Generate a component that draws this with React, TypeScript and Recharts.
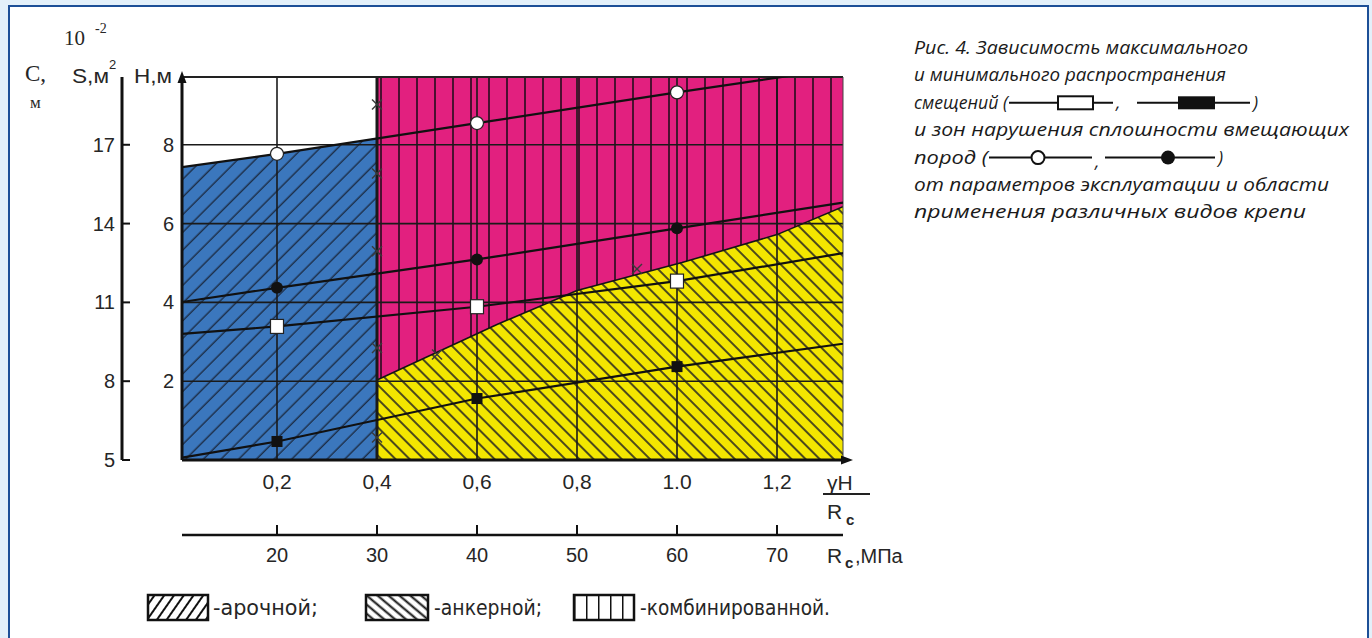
import React from 'react';
import { ComposedChart, Area, Line, Scatter, XAxis, YAxis, ReferenceLine } from 'recharts';

const SANS = "'Liberation Sans', Arial, Helvetica, sans-serif";
const NARROW = "'Liberation Sans Narrow', 'Arial Narrow', 'DejaVu Sans Condensed', 'Liberation Sans', sans-serif";
const SERIF = "'Liberation Serif', 'Times New Roman', serif";
const CAPTION = "'Open Sans', 'Noto Sans', 'DejaVu Sans', sans-serif";
const INK = '#262626';

// ---- axes / ticks ----
const xTicks = [0.2, 0.4, 0.6, 0.8, 1.0, 1.2];
const xTickLabels = ['0,2', '0,4', '0,6', '0,8', '1.0', '1,2'];
const rcTicks = [20, 30, 40, 50, 60, 70];
const hTicks = [2, 4, 6, 8];
const cTicks = [5, 8, 11, 14, 17];

const xDomain: [number, number] = [0.01, 1.332];
const hDomain: [number, number] = [0, 9.72];
const cDomain: [number, number] = [5, 19.58];
const rcDomain: [number, number] = [10.5, 76.6];

// ---- zones of support types (H, m) ----
const archZone = [
  { x: 0.01, v: 7.43 },
  { x: 0.2, v: 7.77 },
  { x: 0.4, v: 8.17 },
];
const combinedZone = [
  { x: 0.4, v: 9.72 },
  { x: 1.332, v: 9.72 },
];
const anchorZone = [
  { x: 0.4, v: 2.03 },
  { x: 0.64, v: 3.44 },
  { x: 0.8, v: 4.3 },
  { x: 1.01, v: 5.01 },
  { x: 1.2, v: 5.72 },
  { x: 1.332, v: 6.43 },
];

// ---- lines (m = marker drawn) ----
const zoneMax = [
  { x: 0.01, v: 7.43 },
  { x: 0.2, v: 7.77, m: 1 },
  { x: 0.6, v: 8.55, m: 1 },
  { x: 1.0, v: 9.33, m: 1 },
  { x: 1.332, v: 9.95 },
];
const zoneMin = [
  { x: 0.01, v: 4.01 },
  { x: 0.2, v: 4.37, m: 1 },
  { x: 0.6, v: 5.09, m: 1 },
  { x: 1.0, v: 5.88, m: 1 },
  { x: 1.332, v: 6.53 },
];
const dispMax = [
  { x: 0.01, v: 3.2 },
  { x: 0.2, v: 3.39, m: 1 },
  { x: 0.6, v: 3.89, m: 1 },
  { x: 1.0, v: 4.54, m: 1 },
  { x: 1.332, v: 5.25 },
];
const dispMin = [
  { x: 0.01, v: 0.06 },
  { x: 0.2, v: 0.47, m: 1 },
  { x: 0.6, v: 1.56, m: 1 },
  { x: 1.0, v: 2.37, m: 1 },
  { x: 1.332, v: 2.95 },
];
const crossMarks = [
  { x: 0.4, v: 9.02 },
  { x: 0.4, v: 7.27 },
  { x: 0.4, v: 5.3 },
  { x: 0.4, v: 2.84 },
  { x: 0.4, v: 0.57 },
  { x: 0.52, v: 2.68 },
  { x: 0.92, v: 4.85 },
];
// Rc (MPa) scale carrier, aligned with the γH/Rc axis
const rcAxisData = rcDomain.map((rc) => ({ rc, v: 0 }));

const captionLines = [
  'Рис. 4. Зависимость максимального',
  'и минимального распространения',
  'смещений (',
  'и зон нарушения сплошности вмещающих',
  'пород (',
  'от параметров эксплуатации и области',
  'применения различных видов крепи',
];
const legendItems = ['-арочной;', '-анкерной;', '-комбинированной.'];

// ---- tick renderers ----
const XTick = (p: any) => {
  const v = p.payload.value;
  const i = xTicks.findIndex((t) => Math.abs(t - v) < 1e-6);
  return (
    <text x={p.x} y={p.y + 22} dy="0.35em" textAnchor="middle" fontSize={21} fontFamily={SANS} fill={INK}>
      {i >= 0 ? xTickLabels[i] : String(v)}
    </text>
  );
};
const RcTick = (p: any) => (
  <g>
    <line x1={p.x} x2={p.x} y1={p.y - 10} y2={p.y} stroke="#111" strokeWidth={2} />
    <text x={p.x} y={p.y + 20} dy="0.35em" textAnchor="middle" fontSize={20} fontFamily={SANS} fill={INK}>
      {p.payload.value}
    </text>
  </g>
);
const HTick = (p: any) => (
  <text x={p.x - 8} y={p.y} dy="0.35em" textAnchor="end" fontSize={20} fontFamily={SANS} fill={INK}>
    {p.payload.value}
  </text>
);
const CTick = (p: any) => (
  <g>
    <line x1={p.x} x2={p.x + 8} y1={p.y} y2={p.y} stroke="#111" strokeWidth={2} />
    <text x={p.x - 7} y={p.y} dy="0.35em" textAnchor="end" fontSize={20} fontFamily={SANS} fill={INK}>
      {p.payload.value}
    </text>
  </g>
);

// ---- markers ----
const makeDot = (kind: string) => (p: any) => {
  const { cx, cy, payload, index } = p;
  if (!payload || !payload.m || cx == null || cy == null) return <g key={`e${kind}${index}`} />;
  const k = `d${kind}${index}`;
  if (kind === 'wc') return <circle key={k} cx={cx} cy={cy} r={6.5} fill="#fff" stroke="#222" strokeWidth={1.2} />;
  if (kind === 'bc') return <circle key={k} cx={cx} cy={cy} r={6} fill="#111" />;
  if (kind === 'ws') return <rect key={k} x={cx - 6.5} y={cy - 7} width={13} height={14} fill="#fff" stroke="#222" strokeWidth={1.2} />;
  return <rect key={k} x={cx - 5.5} y={cy - 5.5} width={11} height={11} fill="#111" />;
};
const CrossShape = (p: any) => {
  const { cx, cy } = p;
  if (cx == null || cy == null) return <g />;
  return (
    <g>
      <line x1={cx - 5} y1={cy - 5} x2={cx + 5} y2={cy + 5} stroke="#3a3a3a" strokeWidth={1.4} />
      <line x1={cx - 5} y1={cy + 5} x2={cx + 5} y2={cy - 5} stroke="#3a3a3a" strokeWidth={1.4} />
    </g>
  );
};

const AX = { xAxisId: 'g', yAxisId: 'h' };

export default function App() {
  const capY = (i: number) => 54 + 27.4 * i;
  return (
    <div style={{ position: 'absolute', left: 0, top: 0, width: 1372, height: 638, background: '#e3f0fa', overflow: 'hidden' }}>
      <div
        style={{
          position: 'absolute',
          left: 8,
          top: 5,
          width: 1361,
          height: 700,
          border: '2.5px solid #1d4f97',
          background: '#fff',
          boxSizing: 'border-box',
        }}
      />
      <div style={{ position: 'absolute', left: 0, top: 0 }}>
        <ComposedChart width={1372} height={638} margin={{ top: 77, right: 529, bottom: 43, left: 62 }}>
          <defs>
            <pattern id="hatchArch" patternUnits="userSpaceOnUse" width="12.5" height="12.5" patternTransform="rotate(45)">
              <rect width="12.5" height="12.5" fill="#3b77bd" />
              <line x1="6" y1="0" x2="6" y2="12.5" stroke="#1c2c44" strokeWidth="1.4" />
            </pattern>
            <pattern id="hatchAnchor" patternUnits="userSpaceOnUse" width="10" height="10" patternTransform="rotate(-45)">
              <rect width="10" height="10" fill="#f3e600" />
              <line x1="5" y1="0" x2="5" y2="10" stroke="#222" strokeWidth="1.6" />
            </pattern>
            <pattern id="hatchComb" patternUnits="userSpaceOnUse" width="18" height="10" x="12">
              <rect width="18" height="10" fill="#e2207f" />
              <line x1="9" y1="0" x2="9" y2="10" stroke="#4a1030" strokeWidth="2" />
            </pattern>
          </defs>

          <XAxis
            xAxisId="g"
            type="number"
            dataKey="x"
            domain={xDomain}
            ticks={xTicks}
            allowDataOverflow
            interval={0}
            height={75}
            tickSize={0}
            tickMargin={0}
            tickLine={false}
            axisLine={{ stroke: '#111', strokeWidth: 3 }}
            tick={XTick}
          />
          <XAxis
            xAxisId="rc"
            type="number"
            dataKey="rc"
            domain={rcDomain}
            ticks={rcTicks}
            allowDataOverflow
            interval={0}
            height={60}
            tickSize={0}
            tickMargin={0}
            tickLine={false}
            axisLine={{ stroke: '#111', strokeWidth: 2.5 }}
            tick={RcTick}
          />
          <YAxis
            yAxisId="h"
            type="number"
            dataKey="v"
            domain={hDomain}
            ticks={hTicks}
            allowDataOverflow
            interval={0}
            width={60}
            tickSize={0}
            tickMargin={0}
            tickLine={false}
            axisLine={{ stroke: '#111', strokeWidth: 3 }}
            tick={HTick}
          />
          <YAxis
            yAxisId="sc"
            type="number"
            domain={cDomain}
            ticks={cTicks}
            allowDataOverflow
            interval={0}
            width={60}
            tickSize={0}
            tickMargin={0}
            tickLine={false}
            axisLine={{ stroke: '#111', strokeWidth: 3 }}
            tick={CTick}
          />

          <Area {...AX} data={combinedZone} dataKey="v" type="linear" fill="url(#hatchComb)" fillOpacity={1} stroke="none" isAnimationActive={false} />
          <Area {...AX} data={anchorZone} dataKey="v" type="linear" fill="url(#hatchAnchor)" fillOpacity={1} stroke="#151515" strokeWidth={1.6} isAnimationActive={false} />
          <Area {...AX} data={archZone} dataKey="v" type="linear" fill="url(#hatchArch)" fillOpacity={1} stroke="none" isAnimationActive={false} />

          {hTicks.map((t) => (
            <ReferenceLine key={`hy${t}`} {...AX} y={t} stroke="#1a1a1a" strokeWidth={1.6} ifOverflow="visible" />
          ))}
          {xTicks.map((t) => (
            <ReferenceLine key={`vx${t}`} {...AX} x={t} stroke="#1a1a1a" strokeWidth={t === 0.4 ? 3 : 1.6} ifOverflow="visible" />
          ))}
          <ReferenceLine {...AX} y={hDomain[1]} stroke="#222" strokeWidth={2} ifOverflow="visible" />
          <ReferenceLine {...AX} x={xDomain[1]} stroke="#444" strokeWidth={1} ifOverflow="visible" />

          <Line xAxisId="rc" yAxisId="h" data={rcAxisData} dataKey="v" stroke="none" dot={false} activeDot={false} isAnimationActive={false} legendType="none" />

          <Scatter {...AX} data={crossMarks} dataKey="v" shape={CrossShape} isAnimationActive={false} />

          <Line {...AX} data={dispMin} dataKey="v" type="linear" stroke="#111" strokeWidth={2.2} dot={makeDot('bs')} activeDot={false} isAnimationActive={false} />
          <Line {...AX} data={dispMax} dataKey="v" type="linear" stroke="#111" strokeWidth={2.2} dot={makeDot('ws')} activeDot={false} isAnimationActive={false} />
          <Line {...AX} data={zoneMin} dataKey="v" type="linear" stroke="#111" strokeWidth={2.2} dot={makeDot('bc')} activeDot={false} isAnimationActive={false} />
          <Line {...AX} data={zoneMax} dataKey="v" type="linear" stroke="#111" strokeWidth={2.2} dot={makeDot('wc')} activeDot={false} isAnimationActive={false} />
        </ComposedChart>
      </div>

      <svg width={1372} height={638} style={{ position: 'absolute', left: 0, top: 0, pointerEvents: 'none' }}>
        <defs>
          <pattern id="legA" patternUnits="userSpaceOnUse" width="8" height="8" patternTransform="rotate(35)">
            <rect width="8" height="8" fill="#fff" />
            <line x1="4" y1="0" x2="4" y2="8" stroke="#111" strokeWidth="2" />
          </pattern>
          <pattern id="legB" patternUnits="userSpaceOnUse" width="7" height="7" patternTransform="rotate(-50)">
            <rect width="7" height="7" fill="#fff" />
            <line x1="3.5" y1="0" x2="3.5" y2="7" stroke="#111" strokeWidth="2" />
          </pattern>
          <pattern id="legC" patternUnits="userSpaceOnUse" width="12" height="10" x="574">
            <rect width="12" height="10" fill="#fff" />
            <line x1="0" y1="0" x2="0" y2="10" stroke="#111" strokeWidth="3" />
          </pattern>
        </defs>

        {/* axis arrows */}
        <polygon points="182,71 177.5,83 186.5,83" fill="#111" />
        <polygon points="853,460 841,455.5 841,464.5" fill="#111" />

        {/* axis titles */}
        <text x={64} y={45} fontFamily={SERIF} fontSize={21} fill={INK}>10</text>
        <text x={95} y={33} fontFamily={SERIF} fontSize={14} fill={INK}>-2</text>
        <text x={25} y={81} fontFamily={SERIF} fontSize={23} fill={INK}>С,</text>
        <text x={30} y={108} fontFamily={SERIF} fontSize={17} fill={INK}>м</text>
        <text x={72} y={83} fontFamily={SANS} fontSize={20} fill={INK} textLength={37} lengthAdjust="spacingAndGlyphs">S,м</text>
        <text x={109} y={69} fontFamily={SANS} fontSize={13} fill={INK}>2</text>
        <text x={134} y={83} fontFamily={SANS} fontSize={20} fill={INK} textLength={38} lengthAdjust="spacingAndGlyphs">Н,м</text>

        <text x={827} y={490} fontFamily={SANS} fontSize={21} fill={INK}>γН</text>
        <line x1={823} y1={494} x2={870} y2={494} stroke="#222" strokeWidth={2} />
        <text x={827} y={519} fontFamily={SANS} fontSize={21} fill={INK}>R</text>
        <text x={846} y={525} fontFamily={SANS} fontSize={15} fontWeight="bold" fill={INK}>c</text>

        <text x={827} y={563} fontFamily={SANS} fontSize={21} fill={INK}>R</text>
        <text x={845} y={568} fontFamily={SANS} fontSize={15} fontWeight="bold" fill={INK}>c</text>
        <text x={855} y={563} fontFamily={SANS} fontSize={20} fill={INK}>,МПа</text>

        {/* caption */}
        {captionLines.map((t, i) => {
          const lens = [334, 312, 94, 435, 74, 415, 392];
          return (
            <text
              key={`cap${i}`}
              x={914}
              y={capY(i)}
              fontFamily={CAPTION}
              fontStyle="italic"
              fontSize={18}
              fill="#1a1a1a"
              textLength={lens[i]}
              lengthAdjust="spacingAndGlyphs"
            >
              {t}
            </text>
          );
        })}
        {/* caption markers: displacements */}
        <line x1={1009} y1={capY(2) - 6} x2={1113} y2={capY(2) - 6} stroke="#111" strokeWidth={2} />
        <rect x={1058} y={capY(2) - 12.5} width={35} height={13} fill="#fff" stroke="#111" strokeWidth={2} />
        <text x={1116} y={capY(2)} fontFamily={CAPTION} fontStyle="italic" fontSize={18} fill="#1a1a1a">,</text>
        <line x1={1137} y1={capY(2) - 6} x2={1250} y2={capY(2) - 6} stroke="#111" strokeWidth={2} />
        <rect x={1178} y={capY(2) - 12.5} width={37} height={13} fill="#111" />
        <text x={1253} y={capY(2)} fontFamily={CAPTION} fontStyle="italic" fontSize={18} fill="#1a1a1a">)</text>
        {/* caption markers: zones */}
        <line x1={989} y1={capY(4) - 6} x2={1092} y2={capY(4) - 6} stroke="#111" strokeWidth={2} />
        <circle cx={1038} cy={capY(4) - 6} r={6.5} fill="#fff" stroke="#111" strokeWidth={2} />
        <text x={1095} y={capY(4) + 4} fontFamily={CAPTION} fontStyle="italic" fontSize={18} fill="#1a1a1a">,</text>
        <line x1={1105} y1={capY(4) - 6} x2={1215} y2={capY(4) - 6} stroke="#111" strokeWidth={2} />
        <circle cx={1168} cy={capY(4) - 6} r={7} fill="#111" />
        <text x={1218} y={capY(4)} fontFamily={CAPTION} fontStyle="italic" fontSize={18} fill="#1a1a1a">)</text>

        {/* legend */}
        <rect x={148} y={595} width={60} height={25} fill="url(#legA)" stroke="#111" strokeWidth={2.5} />
        <text x={213} y={615} fontFamily={NARROW} fontSize={22} fill={INK} textLength={105} lengthAdjust="spacingAndGlyphs">{legendItems[0]}</text>
        <rect x={366} y={595} width={62} height={25} fill="url(#legB)" stroke="#111" strokeWidth={2.5} />
        <text x={434} y={615} fontFamily={NARROW} fontSize={22} fill={INK} textLength={108} lengthAdjust="spacingAndGlyphs">{legendItems[1]}</text>
        <rect x={574} y={595} width={60} height={25} fill="url(#legC)" stroke="#111" strokeWidth={2.5} />
        <text x={640} y={615} fontFamily={NARROW} fontSize={22} fill={INK} textLength={190} lengthAdjust="spacingAndGlyphs">{legendItems[2]}</text>
      </svg>
    </div>
  );
}
